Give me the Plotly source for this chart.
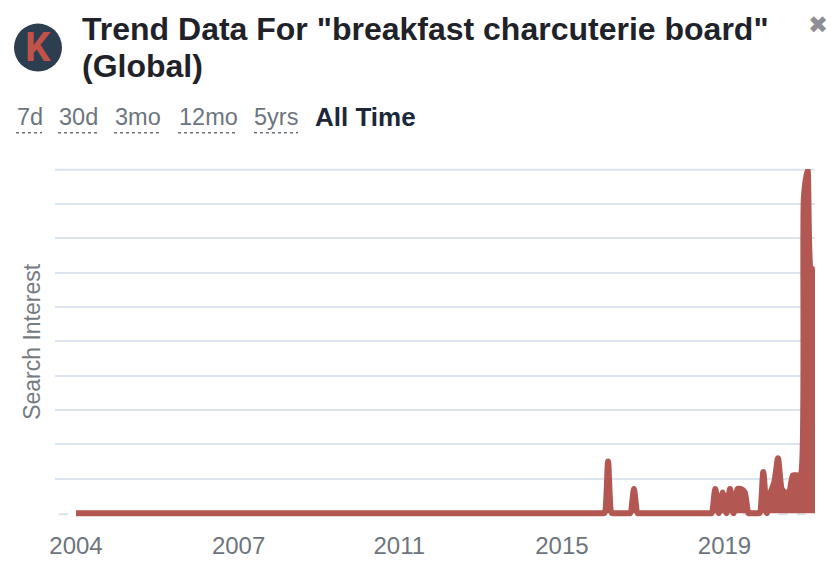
import plotly.graph_objects as go

# le body de la page ajoute 8 px de marge autour de la figure
PAGE_MARGIN = 8
W = 836
H = 570
PLOT_LEFT = 55
PLOT_RIGHT = 815
PLOT_TOP = 169.3
PLOT_BOTTOM = 520

title_lines = ['Trend Data For "breakfast charcuterie board"', '(Global)']
range_labels = ['7d', '30d', '3mo', '12mo', '5yrs']
range_left = [15, 57, 113, 177, 252]
underline_left = [16, 58, 114, 178, 254]
underline_right = [42, 98, 162, 238, 298]

tick_vals = [0, 44, 87.5, 131.5, 175.5]
tick_text = ['2004', '2007', '2011', '2015', '2019']

# valeurs mensuelles
zeros_start = [0] * 144
bump_2015 = [15, 0, 0, 0, 0, 0, 0, 7]
zeros_mid = [0] * 21
bumps_2019 = [7, 0, 6, 0, 7, 0, 7, 7, 6, 0, 0, 0, 0]
end_2020 = [12, 0, 6, 9, 16, 7, 6, 6, 11, 11, 11, 92, 100, 71, 71]
search_interest = zeros_start + bump_2015 + zeros_mid + bumps_2019 + end_2020
months = list(range(len(search_interest)))

start_x = 76
px_per_month = (815 - 76) / (len(search_interest) - 1)
x_min = (PLOT_LEFT - start_x) / px_per_month
x_max = (PLOT_RIGHT - start_x) / px_per_month

fig = go.Figure()
fig.add_trace(go.Scatter(x=months, y=search_interest, mode='lines',
                         line=dict(color='#b25751', width=6, shape='spline', smoothing=0.6),
                         fill='tozeroy', fillcolor='#b25751', hoverinfo='skip', showlegend=False))

grey = '#6c757d'
dark = '#1f2329'
font = 'Liberation Sans'

def pos_x(px):
    return (px - PLOT_LEFT) / (PLOT_RIGHT - PLOT_LEFT)

def pos_y(py):
    return 1 - (py - PLOT_TOP) / (PLOT_BOTTOM - PLOT_TOP)

def add_text(px, py, text, size, color, xanchor='left', family=font, angle=0):
    fig.add_annotation(x=pos_x(px), y=pos_y(py), xref='paper', yref='paper', xanchor=xanchor, yanchor='middle',
                       text=text, showarrow=False, textangle=angle, font=dict(family=family, size=size, color=color))

# ligne de base pointillée
fig.add_shape(type='line', x0=x_min + 1, x1=x_max, y0=-0.3, y1=-0.3, layer='below',
              line=dict(color='#d8e1ec', width=2, dash='dash'))
# plotly retire la grille collée au bord haut
fig.add_shape(type='line', xref='paper', yref='paper', x0=0, x1=1, y0=pos_y(170), y1=pos_y(170), layer='below',
              line=dict(color='#dce4ee', width=2))

add_text(80, 29, '<b>' + title_lines[0] + '</b>', 32, dark)
add_text(80, 66, '<b>' + title_lines[1] + '</b>', 32, dark)

# logo
fig.add_shape(type='circle', xref='paper', yref='paper', x0=pos_x(14), x1=pos_x(62), y0=pos_y(72), y1=pos_y(24),
              fillcolor='#2c3e50', line=dict(width=0))
add_text(38, 48, '<b>K</b>', 40, '#c0524a', xanchor='center', family='Roboto')

# croix de fermeture, descendue car la figure commence à y=8
add_text(818, 25, '✖', 24, '#8e8f94', xanchor='center', family='DejaVu Sans')

for label, left, u0, u1 in zip(range_labels, range_left, underline_left, underline_right):
    add_text(left, 117, label, 23.5, grey)
    fig.add_shape(type='line', xref='paper', yref='paper', x0=pos_x(u0), x1=pos_x(u1), y0=pos_y(133), y1=pos_y(133),
                  line=dict(color=grey, width=1.5, dash='dot'))
add_text(313, 117, '<b>All Time</b>', 26, '#1c2838')

add_text(32, 342, 'Search Interest', 23, '#767b80', xanchor='center', angle=-90)

fig.update_layout(width=W, height=H, template='plotly_white', plot_bgcolor='white', paper_bgcolor='white',
                  margin=dict(l=PLOT_LEFT - PAGE_MARGIN, r=W - (PLOT_RIGHT - PAGE_MARGIN),
                              t=PLOT_TOP - PAGE_MARGIN, b=H - (PLOT_BOTTOM - PAGE_MARGIN)),
                  showlegend=False, font=dict(family=font))
fig.update_xaxes(range=[x_min, x_max], tickvals=tick_vals, ticktext=tick_text, showgrid=False, zeroline=False,
                 showline=False, ticks='', ticklabelstandoff=9, tickfont=dict(size=24, color=grey))
fig.update_yaxes(range=[-2, 100.2], tickvals=list(range(10, 101, 10)), showticklabels=False, gridcolor='#dce4ee',
                 gridwidth=2, zeroline=False, showline=False, ticks='')

fig.write_html("out.html")
